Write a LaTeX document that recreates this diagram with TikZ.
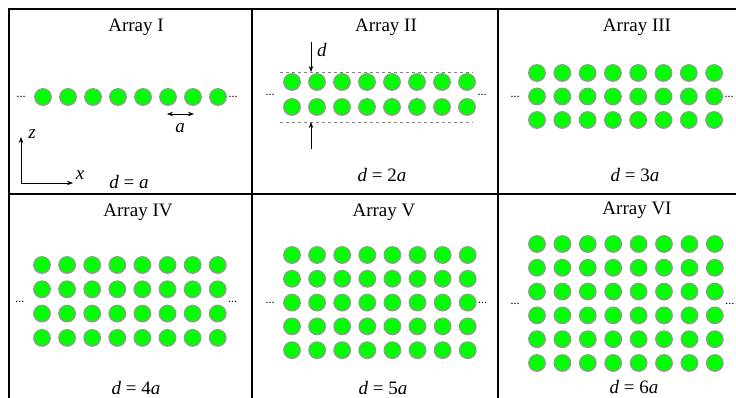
\documentclass[tikz,border=0pt]{standalone}
\usepackage{fontspec}
\setmainfont{Liberation Serif}
\usetikzlibrary{arrows.meta,positioning}

\definecolor{rodedge}{RGB}{135,160,135}

\tikzset{
  rod/.style={circle, fill=green, draw=rodedge, line width=1.3pt, minimum size=16.5pt, inner sep=0pt},
  frame/.style={line width=1.8pt},
  title/.style={font=\fontsize{19}{22}\selectfont, inner sep=0pt},
  dlabel/.style={font=\fontsize{19}{22}\selectfont, inner sep=0pt},
  more/.style={font=\fontsize{9}{9}\selectfont\bfseries, inner sep=0pt},
  tip/.style={-{Stealth[length=6pt,width=4.5pt]}, line width=0.8pt},
}

\begin{document}
\begin{tikzpicture}[x=1pt,y=-1pt]
    \useasboundingbox[fill=white] (0,0) rectangle (736,398);
    % cell frame
    \draw[frame] (736,9) -- (9,9) -- (9,398);
    \draw[frame] (9,194) -- (736,194);
    \draw[frame] (252,9) -- (252,398);
    \draw[frame] (498,9) -- (498,398);

    % rod arrays
    \foreach \n/\xs/\ys/\dx/\dy/\rows in {I/43/97/25/24/1, II/292/82/25/25/2, III/537/73/25.3/23.5/3,
        IV/42/265/25.1/24.3/4, V/292/255/25.1/23.8/5, VI/537/244/25.4/23.8/6}{
      \foreach \r in {1,...,\rows}{
        \foreach \c in {1,...,8}{
          \node[rod] (rod-\n-\r-\c) at ({\xs+(\c-1)*\dx},{\ys+(\r-1)*\dy}) {};
        }
      }
      \node[more] (ldots-\n) at ({\xs-22},{\ys+(\rows-1)*\dy/2}) {…};
      \node[more] (rdots-\n) at ({\xs+7*\dx+15},{\ys+(\rows-1)*\dy/2}) {…};
    }

    % titles
    \node[title] (title-I) at (136,27) {Array I};
    \node[title] (title-II) at (386,27) {Array II};
    \node[title] (title-III) at (637,27) {Array III};
    \node[title] (title-IV) at (138,212) {Array IV};
    \node[title] (title-V) at (384,212) {Array V};
    \node[title] (title-VI) at (637,210) {Array VI};

    % spacings
    \node[dlabel] (d-I) at (129,182) {\textit{d} = \textit{a}};
    \node[dlabel] (d-II) at (382,175) {\textit{d} = 2\textit{a}};
    \node[dlabel] (d-III) at (635,175) {\textit{d} = 3\textit{a}};
    \node[dlabel] (d-IV) at (136,388) {\textit{d} = 4\textit{a}};
    \node[dlabel] (d-V) at (383,388) {\textit{d} = 5\textit{a}};
    \node[dlabel] (d-VI) at (634,387) {\textit{d} = 6\textit{a}};

    % lattice constant a
    \coordinate (a-left) at (167,114);
    \coordinate (a-right) at (194,114);
    \draw[{Stealth[length=6pt,width=4.5pt]}-{Stealth[length=6pt,width=4.5pt]}, line width=0.8pt] (a-left) -- (a-right);
    \node[dlabel] (a-text) at (180,128) {\textit{a}};

    % axes
    \coordinate (origin) at (21,183);
    \coordinate (z-end) at (21,137);
    \coordinate (x-end) at (73,183);
    \draw[tip] (origin) -- (z-end);
    \draw[tip] (origin) -- (x-end);
    \node[dlabel] (z-text) at (32,134) {\textit{z}};
    \node[dlabel] (x-text) at (80,175) {\textit{x}};

    % thickness d of Array II
    \draw[dashed, gray, line width=0.7pt] (280,72) -- (473,72);
    \draw[dashed, gray, line width=0.7pt] (280,122) -- (473,122);
    \coordinate (top-start) at (311,42);
    \coordinate (top-end) at (311,72);
    \coordinate (bot-start) at (311,149);
    \coordinate (bot-end) at (311,122);
    \draw[tip] (top-start) -- (top-end);
    \draw[tip] (bot-start) -- (bot-end);
    \node[dlabel] (d-text) at (322,50) {\textit{d}};
\end{tikzpicture}
\end{document}
